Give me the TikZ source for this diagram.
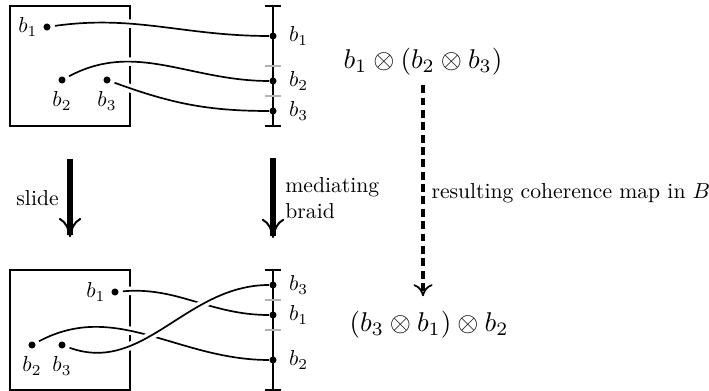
\documentclass[tikz,border=0pt]{standalone}
\usepackage{tikz}
\usetikzlibrary{arrows.meta, positioning, backgrounds}
\tikzstyle{panel}    = [rectangle, draw, line width=0.6pt, minimum size=1.5cm,
                        inner sep=0pt]
\tikzstyle{bead}     = [circle, fill, inner sep=0pt, minimum size=2.5pt]
\tikzstyle{lbl}      = [scale=0.77, transform shape]
\tikzstyle{llbl}     = [lbl, label distance=-1pt]
\tikzstyle{rlbl}     = [lbl, label distance=2pt]
\tikzstyle{obj}      = [scale=0.965, transform shape]
\tikzstyle{strand}   = [line width=0.6pt, shorten <=1.4pt,
                        preaction={draw=white, line width=3pt}]
\tikzstyle{interval} = [line width=0.8pt]
\tikzstyle{gaptick}  = [line width=0.7pt, gray!60]
\tikzstyle{bigarrow} = [-{To[length=2.4mm, width=2.8mm, line width=0.7pt]},
                        line width=1.8pt, shorten <=0.4cm, shorten >=0.4cm]
\tikzstyle{maparrow} = [-{To[length=1.5mm, width=2.4mm, line width=0.6pt]},
                        line width=1.2pt, dash pattern=on 2.8pt off 1.6pt]

\begin{document}
\begin{tikzpicture}
  \useasboundingbox (0,0) rectangle (8.8625,-4.8875);

  % before sliding
  \node[bead, label={[llbl]left:$b_1$}] (a1) at (0.5875,-0.3375) {};
  \node[bead, label={[lbl]below:$b_2$}] (a2) at (0.775,-1) {};
  \node[bead, label={[lbl]below:$b_3$}] (a3) at (1.3375,-1) {};

  \coordinate (top1) at (3.4125,-0.075);
  \coordinate (bot1) at (3.4125,-1.575);
  \draw[interval] (top1) -- (bot1);
  \foreach \y in {-0.075,-1.575}
    \draw[interval] (3.3125,\y) -- (3.5125,\y);
  \foreach \y in {-0.825,-1.2}
    \draw[gaptick] (3.3125,\y) -- (3.5125,\y);
  \node[bead, label={[rlbl]right:$b_1$}] (r1) at (3.4125,-0.45) {};
  \node[bead, label={[rlbl]right:$b_2$}] (r2) at (3.4125,-1.0125) {};
  \node[bead, label={[rlbl]right:$b_3$}] (r3) at (3.4125,-1.3875) {};

  % after sliding
  \node[bead, label={[llbl]left:$b_1$}] (c1) at (1.4375,-3.65) {};
  \node[bead, label={[lbl]below:$b_2$}] (c2) at (0.4,-4.3125) {};
  \node[bead, label={[lbl]below:$b_3$}] (c3) at (0.775,-4.3125) {};

  \coordinate (top2) at (3.4125,-3.375);
  \coordinate (bot2) at (3.4125,-4.875);
  \draw[interval] (top2) -- (bot2);
  \foreach \y in {-3.375,-4.875}
    \draw[interval] (3.3125,\y) -- (3.5125,\y);
  \foreach \y in {-3.75,-4.125}
    \draw[gaptick] (3.3125,\y) -- (3.5125,\y);
  \node[bead, label={[rlbl]right:$b_3$}] (s1) at (3.4125,-3.5625) {};
  \node[bead, label={[rlbl]right:$b_1$}] (s2) at (3.4125,-3.9375) {};
  \node[bead, label={[rlbl]right:$b_2$}] (s3) at (3.4125,-4.5) {};

  \begin{scope}[on background layer]
    \node[panel] (box1) at (0.875,-0.825) {};
    \draw[strand] (a1) to[out=8,in=180] (r1);
    \draw[strand] (a2) to[out=28,in=180] (r2);
    \draw[strand] (a3) to[out=-20,in=180] (r3);

    \node[panel] (box2) at (0.875,-4.125) {};
    \draw[strand] (c1) to[out=5,in=180] (s2);
    \draw[strand] (c2) to[out=28,in=180] (s3);
    \draw[strand] (c3) to[out=-20,in=180] (s1);
  \end{scope}

  \draw[bigarrow] (box1) -- (box2)
    node[lbl, midway, left, xshift=-1pt] {slide};
  \draw[bigarrow] (bot1) -- (top2)
    node[lbl, midway, right, xshift=1.5pt, align=left] {mediating\\braid};

  % objects of B
  \node[obj] (obj1) at (5.2875,-0.775) {$b_1\otimes(b_2\otimes b_3)$};
  \node[obj] (obj2) at (5.3625,-4.0625) {$(b_3\otimes b_1)\otimes b_2$};
  \draw[maparrow, shorten >=2pt] (obj1.south) -- (obj1.south |- obj2.north)
    node[lbl, midway, right] {resulting coherence map in $B$};
\end{tikzpicture}
\end{document}
